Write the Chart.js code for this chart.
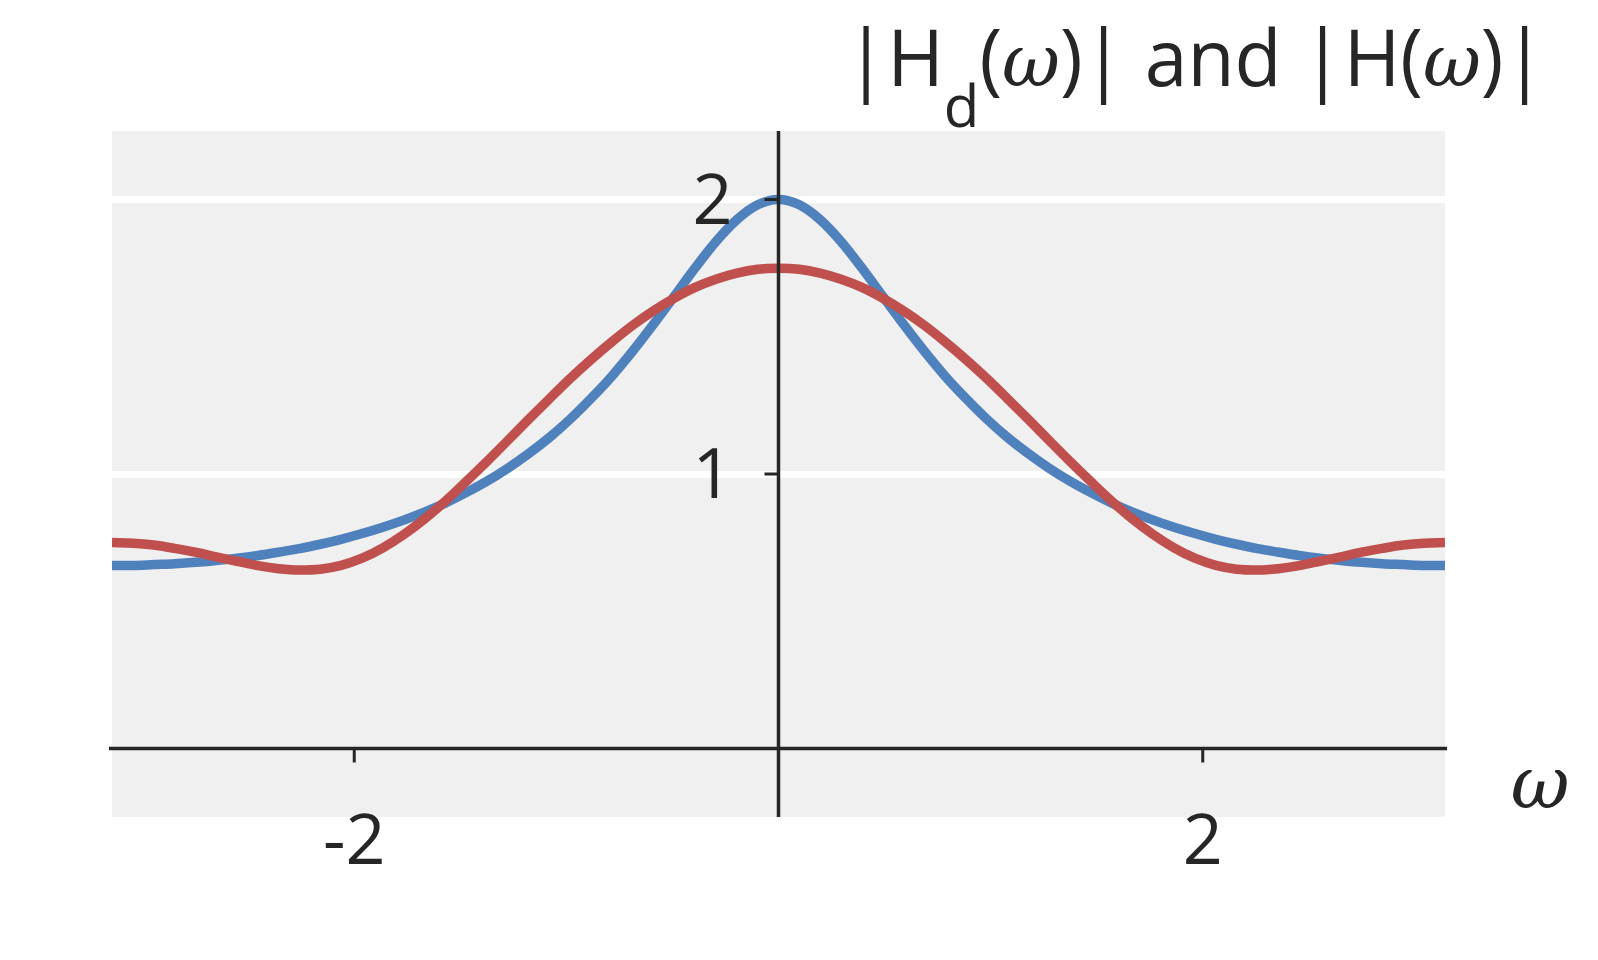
<!DOCTYPE html>
<html>
<head>
<meta charset="utf-8">
<script src="https://cdn.jsdelivr.net/npm/chart.js@4.4.0/dist/chart.umd.min.js"></script>
<style>
  html, body { margin: 0; padding: 0; background: #fff; }
  #wrap { width: 1598px; height: 960px; position: relative; }
</style>
</head>
<body>
<div id="wrap"><canvas id="chart"></canvas></div>
<script>
// ==================== DATA ====================
// omega from -pi to pi, step pi/32
const omega = [-3.142, -3.043, -2.945, -2.847, -2.749, -2.651, -2.553, -2.454, -2.356, -2.258, -2.160, -2.062, -1.963, -1.865, -1.767, -1.669,
  -1.571, -1.473, -1.374, -1.276, -1.178, -1.080, -0.982, -0.884, -0.785, -0.687, -0.589, -0.491, -0.393, -0.295, -0.196, -0.098,
  0, 0.098, 0.196, 0.295, 0.393, 0.491, 0.589, 0.687, 0.785, 0.884, 0.982, 1.080, 1.178, 1.276, 1.374, 1.473,
  1.571, 1.669, 1.767, 1.865, 1.963, 2.062, 2.160, 2.258, 2.356, 2.454, 2.553, 2.651, 2.749, 2.847, 2.945, 3.043, 3.142];

// red curve
const magH = [0.750, 0.748, 0.741, 0.729, 0.715, 0.698, 0.682, 0.666, 0.655, 0.650, 0.653, 0.667, 0.693, 0.731, 0.779, 0.836,
  0.901, 0.972, 1.046, 1.122, 1.199, 1.274, 1.348, 1.417, 1.482, 1.542, 1.595, 1.641, 1.680, 1.710, 1.732, 1.746,
  1.750, 1.746, 1.732, 1.710, 1.680, 1.641, 1.595, 1.542, 1.482, 1.417, 1.348, 1.274, 1.199, 1.122, 1.046, 0.972,
  0.901, 0.836, 0.779, 0.731, 0.693, 0.667, 0.653, 0.650, 0.655, 0.666, 0.682, 0.698, 0.715, 0.729, 0.741, 0.748, 0.750];

// blue curve
const magHd = [0.667, 0.667, 0.670, 0.673, 0.678, 0.685, 0.693, 0.703, 0.715, 0.728, 0.744, 0.762, 0.783, 0.806, 0.832, 0.861,
  0.894, 0.932, 0.974, 1.021, 1.074, 1.133, 1.200, 1.275, 1.357, 1.448, 1.546, 1.648, 1.751, 1.847, 1.927, 1.981,
  2.000, 1.981, 1.927, 1.847, 1.751, 1.648, 1.546, 1.448, 1.357, 1.275, 1.200, 1.133, 1.074, 1.021, 0.974, 0.932,
  0.894, 0.861, 0.832, 0.806, 0.783, 0.762, 0.744, 0.728, 0.715, 0.703, 0.693, 0.685, 0.678, 0.673, 0.670, 0.667, 0.667];

const xTicks = [-2, 2];
const yTicks = [1, 2];

const TEXT = '#262626';
const RED = '#c0504d';
const BLUE = '#4f81bd';

// ==================== PLUGINS ====================
const plotBg = {
  id: 'plotBg',
  beforeDraw(chart) {
    const { ctx, chartArea: a } = chart;
    ctx.save();
    ctx.fillStyle = '#f0f0f0';
    ctx.fillRect(a.left, a.top, a.right - a.left, a.bottom - a.top);
    ctx.restore();
  }
};

// spines through the origin, tick marks and labels
const originAxes = {
  id: 'originAxes',
  afterDatasetsDraw(chart) {
    const { ctx, chartArea: a, scales: { x, y } } = chart;
    const x0 = x.getPixelForValue(0);
    const y0 = y.getPixelForValue(0);
    ctx.save();
    ctx.strokeStyle = TEXT;
    ctx.lineWidth = 3.5;
    ctx.beginPath();
    ctx.moveTo(a.left - 3, y0); ctx.lineTo(a.right + 2, y0);
    ctx.moveTo(x0, a.top); ctx.lineTo(x0, a.bottom);
    ctx.stroke();

    ctx.lineWidth = 3;
    ctx.beginPath();
    xTicks.forEach(v => {
      const px = x.getPixelForValue(v);
      ctx.moveTo(px, y0); ctx.lineTo(px, y0 + 14);
    });
    yTicks.forEach(v => {
      const py = y.getPixelForValue(v);
      ctx.moveTo(x0 - 14, py); ctx.lineTo(x0, py);
    });
    ctx.stroke();

    ctx.fillStyle = TEXT;
    ctx.font = '70px "Open Sans"';
    ctx.textBaseline = 'alphabetic';
    ctx.textAlign = 'center';
    xTicks.forEach(v => ctx.fillText(String(v), x.getPixelForValue(v), 864));
    ctx.textAlign = 'right';
    yTicks.forEach(v => ctx.fillText(String(v), x0 - 46, y.getPixelForValue(v) + 24));

    // axis label
    ctx.textAlign = 'center';
    ctx.font = 'italic 72px "DejaVu Serif"';
    ctx.fillText('ω', 1540, 808);
    ctx.restore();
  }
};

// title with subscript and italic omega
const mathTitle = {
  id: 'mathTitle',
  afterDraw(chart) {
    const ctx = chart.ctx;
    const main = '78px "Open Sans"';
    const sub = '59px "Open Sans"';
    const ital = 'italic 72px "DejaVu Serif"';
    const runs = [
      ['|H', main, 0], ['d', sub, 41], ['(', main, 0], ['ω', ital, 0], [')| and |H(', main, 0],
      ['ω', ital, 0], [')|', main, 0]
    ];
    ctx.save();
    ctx.fillStyle = TEXT;
    ctx.textAlign = 'left';
    ctx.textBaseline = 'alphabetic';
    ctx.translate(845, 86);
    ctx.scale(0.985, 1);
    let px = 0;
    runs.forEach(([t, f, dy]) => {
      ctx.font = f;
      ctx.fillText(t, px, dy);
      px += ctx.measureText(t).width;
    });
    ctx.restore();
  }
};

// ==================== CHART ====================
function toPoints(ys) {
  return omega.map((w, i) => ({ x: w, y: ys[i] }));
}

function buildChart() {
  const ctx = document.getElementById('chart').getContext('2d');
  const lineStyle = { borderWidth: 9.5, pointRadius: 0, cubicInterpolationMode: 'monotone', clip: 0, fill: false };
  new Chart(ctx, {
    type: 'line',
    data: {
      datasets: [
        { label: '|H(ω)|', data: toPoints(magH), borderColor: RED, ...lineStyle },
        { label: '|Hd(ω)|', data: toPoints(magHd), borderColor: BLUE, ...lineStyle }
      ]
    },
    options: {
      responsive: true,
      maintainAspectRatio: false,
      animation: false,
      layout: { padding: { left: 112, right: 153, top: 131, bottom: 143 } },
      scales: {
        x: { type: 'linear', min: -3.142, max: 3.142, display: false },
        y: {
          type: 'linear', min: -0.25, max: 2.25,
          afterBuildTicks: s => { s.ticks = yTicks.map(v => ({ value: v })); },
          ticks: { display: false },
          border: { display: false },
          grid: { color: '#ffffff', lineWidth: 7, drawTicks: false }
        }
      },
      plugins: {
        legend: { display: false },
        tooltip: { enabled: false },
        title: { display: false }
      }
    },
    plugins: [plotBg, originAxes, mathTitle]
  });
}

document.fonts.load('70px "Open Sans"').then(buildChart, buildChart);
</script>
</body>
</html>
